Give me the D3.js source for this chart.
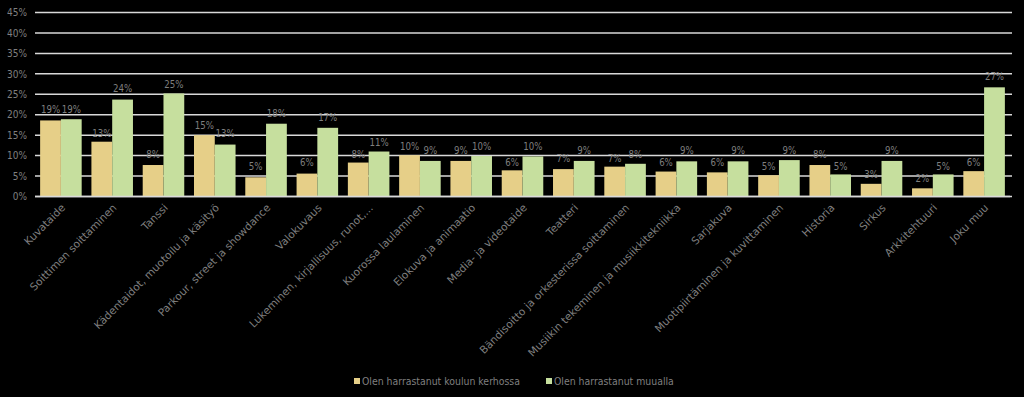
<!DOCTYPE html>
<html><head><meta charset="utf-8">
<script src="https://cdn.jsdelivr.net/npm/d3@7"></script>
<style>
html,body{margin:0;padding:0;background:#000;}
svg{display:block;}
text{font-family:"DejaVu Sans",sans-serif;fill:#7f7f7f;}
</style></head>
<body><svg id="c" width="1024" height="397"></svg>
<script>
const categories = ["Kuvataide","Soittimen soittaminen","Tanssi","Kädentaidot, muotoilu ja käsityö","Parkour, street ja showdance","Valokuvaus","Lukeminen, kirjallisuus, runot,...","Kuorossa laulaminen","Elokuva ja animaatio","Media- ja videotaide","Teatteri","Bändisoitto ja orkesterissa soittaminen","Musiikin tekeminen ja musiikkitekniikka","Sarjakuva","Muotipiirtäminen ja kuvittaminen","Historia","Sirkus","Arkkitehtuuri","Joku muu"];
const seriesNames = ["Olen harrastanut koulun kerhossa","Olen harrastanut muualla"];
const koulussa = [0.186,0.134,0.077,0.150,0.047,0.056,0.083,0.101,0.087,0.064,0.067,0.073,0.061,0.059,0.052,0.077,0.031,0.020,0.062];
const muualla  = [0.189,0.237,0.252,0.127,0.178,0.168,0.110,0.087,0.099,0.098,0.087,0.080,0.086,0.086,0.089,0.054,0.087,0.054,0.267];
const yTicks = [0,0.05,0.10,0.15,0.20,0.25,0.30,0.35,0.40,0.45];
const colors = ["#e6cf88","#c6df9e"];

const svg = d3.select("#c");
const mLeft = 35, mRight = 1010, mTop = 12.5, mBottom = 196.5;
const x = d3.scaleBand().domain(categories).range([mLeft,mRight]).paddingInner(0.19).paddingOuter(0.1);
const xs = d3.scaleBand().domain([0,1]).range([0,x.bandwidth()]);
const y = d3.scaleLinear().domain([0,0.45]).range([mBottom,mTop]);
const pct = d3.format(".0%");
const FONT = "DejaVu Sans Condensed, DejaVu Sans";
const FONT2 = "DejaVu Sans";

// gridlines
svg.append("g").selectAll("line").data(yTicks).join("line")
  .attr("x1",mLeft).attr("x2",mRight+2)
  .attr("y1",d=>y(d)).attr("y2",d=>y(d))
  .attr("stroke","#d9d9d9").attr("stroke-width",1.5);

// y axis labels
const yAxis = d3.axisLeft(y).tickValues(yTicks).tickFormat(pct).tickSize(0).tickPadding(0);
const ya = svg.append("g").attr("transform",`translate(${mLeft-8},0)`).call(yAxis);
ya.select(".domain").remove();
ya.selectAll("text").attr("font-size",10).attr("fill","#7f7f7f").style("font-family",FONT);

// bars
const series = [koulussa, muualla];
series.forEach((vals,si)=>{
  svg.append("g").selectAll("rect").data(vals).join("rect")
    .attr("x",(d,i)=>x(categories[i])+xs(si))
    .attr("width",xs.bandwidth())
    .attr("y",d=>y(d)).attr("height",d=>y(0)-y(d))
    .attr("fill",colors[si]);
  svg.append("g").selectAll("text").data(vals).join("text")
    .attr("x",(d,i)=>x(categories[i])+xs(si)+xs.bandwidth()/2)
    .attr("y",d=>y(Math.round(d*100)/100)-6)
    .attr("text-anchor","middle").attr("font-size",9.6)
    .style("font-family",FONT)
    .text(d=>pct(d));
});

// x axis line
svg.append("line").attr("x1",mLeft).attr("x2",mRight).attr("y1",mBottom).attr("y2",mBottom)
  .attr("stroke","#d9d9d9").attr("stroke-width",1.5);

// x labels
const xAxis = d3.axisBottom(x).tickSize(0).tickPadding(0);
const xa = svg.append("g").attr("transform",`translate(0,${mBottom})`).call(xAxis);
xa.select(".domain").remove();
xa.selectAll("text")
  .attr("text-anchor","end").attr("font-size",10.6).attr("fill","#7f7f7f")
  .style("font-family",FONT2)
  .attr("dy",null).attr("y",0)
  .attr("transform","translate(5,12) rotate(-45)");

// legend
const legX = [354, 546];
const leg = svg.append("g");
seriesNames.forEach((n,i)=>{
  leg.append("rect").attr("x",legX[i]).attr("y",378).attr("width",6).attr("height",6).attr("fill",colors[i]);
  leg.append("text").attr("x",legX[i]+8).attr("y",384.5).attr("font-size",10.4)
    .style("font-family",FONT).text(n);
});
</script></body></html>
